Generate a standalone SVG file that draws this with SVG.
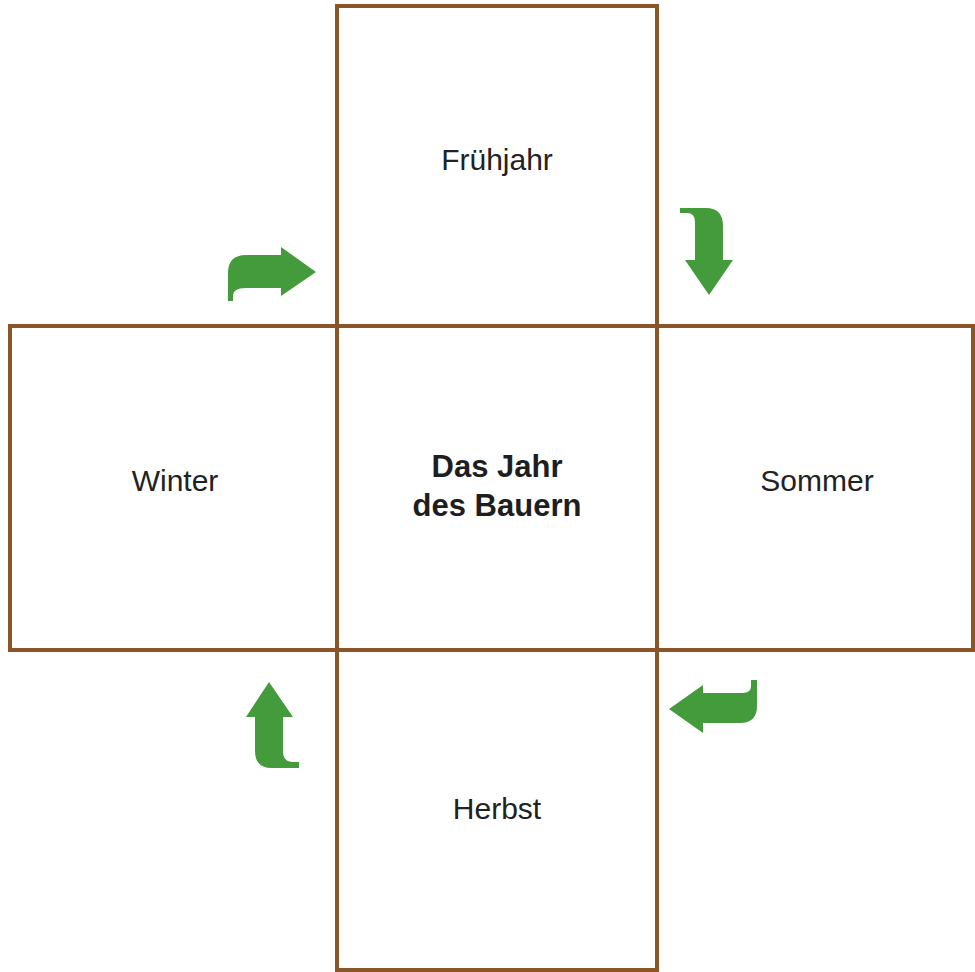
<svg xmlns="http://www.w3.org/2000/svg" width="975" height="972" viewBox="0 0 975 972">
<style>
.box{fill:#ffffff;stroke:#8a5527;stroke-width:4}
.lbl{font-family:"Liberation Sans",Arial,sans-serif;font-size:30px;fill:#222222;text-anchor:middle}
.title{font-family:"Liberation Sans",Arial,sans-serif;font-size:31px;font-weight:bold;fill:#1e1e1e;text-anchor:middle}
.arr{fill:#439b3b}
</style>
<rect width="975" height="972" fill="#ffffff"/>
<g id="node-fruehjahr">
<rect class="box" x="337" y="6" width="320" height="320"/>
<text class="lbl" x="497" y="170">Frühjahr</text>
</g>
<g id="node-winter">
<rect class="box" x="10" y="326" width="327" height="324"/>
<text class="lbl" x="175" y="491">Winter</text>
</g>
<g id="node-sommer">
<rect class="box" x="657" y="326" width="316" height="324"/>
<text class="lbl" x="817" y="491">Sommer</text>
</g>
<g id="node-herbst">
<rect class="box" x="337" y="650" width="320" height="320"/>
<text class="lbl" x="497" y="819">Herbst</text>
</g>
<g id="node-center">
<rect class="box" x="337" y="326" width="320" height="324"/>
<text class="title" x="497" y="477">Das Jahr</text>
<text class="title" x="497" y="516">des Bauern</text>
</g>
<g id="connectors">
<path class="arr" d="M228 301 L228 273 Q228 255 246 255 L281 255 L281 247 L316 272 L281 296 L281 288 L246 288 Q233 288 233 296 L233 301 Z"/>
<path class="arr" d="M680 208 L706 208 Q723 208 723 226 L723 260 L733 260 L709 295 L685 260 L695 260 L695 222 Q695 213 687 213 L680 213 Z"/>
<path class="arr" d="M757 680 L757 706 Q757 723 740 723 L703 723 L703 733 L669 709 L703 685 L703 693 L743 693 Q751 693 751 686 L751 680 Z"/>
<path class="arr" d="M255 717 L246 717 L269 682 L293 717 L283 717 L283 751 Q283 762 293 762 L299 762 L299 768 L272 768 Q255 768 255 751 Z"/>
</g>
</svg>
